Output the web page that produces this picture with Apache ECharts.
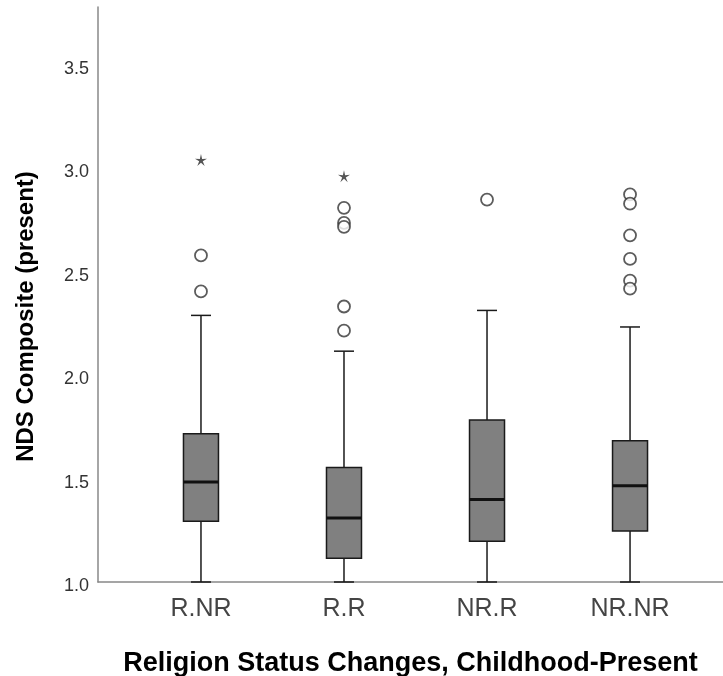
<!DOCTYPE html>
<html>
<head>
<meta charset="utf-8">
<script src="https://cdn.jsdelivr.net/npm/echarts@6/dist/echarts.min.js"></script>
<style>
  html, body { margin: 0; padding: 0; background: #fff; }
  #chart { width: 723px; height: 676px; }
</style>
</head>
<body>
<div id="chart"></div>
<script>
// groups on the x axis
let categories = ['R.NR', 'R.R', 'NR.R', 'NR.NR'];

// box statistics per group (whisker low, Q1, median, Q3, whisker high)
let whiskerLow  = [1.00, 1.00, 1.00, 1.00];
let quartile1   = [1.294, 1.115, 1.197, 1.246];
let medians     = [1.483, 1.309, 1.399, 1.465];
let quartile3   = [1.717, 1.554, 1.783, 1.683];
let whiskerHigh = [2.289, 2.116, 2.313, 2.233];

// outliers (circles) and extremes (stars): [group index, value]
let outliers = [
  [0, 2.579], [0, 2.405],
  [1, 2.809], [1, 2.736], [1, 2.717], [1, 2.332], [1, 2.215],
  [2, 2.849],
  [3, 2.874], [3, 2.829], [3, 2.676], [3, 2.562], [3, 2.457], [3, 2.418]
];
let extremes = [
  [0, 3.040],
  [1, 2.962]
];

let yTicks = [1.0, 1.5, 2.0, 2.5, 3.0, 3.5];

let boxData = categories.map((c, i) => [i, whiskerLow[i], quartile1[i], medians[i], quartile3[i], whiskerHigh[i]]);

let starPath = 'path://M50 0 L58.82 37.86 L97.55 34.55 L64.27 54.64 L79.39 90.45 L50 65 L20.61 90.45 L35.73 54.64 L2.45 34.55 L41.18 37.86 Z';

let chart = echarts.init(document.getElementById('chart'), null, { renderer: 'canvas' });

function renderBox(params, api) {
  let i = api.value(0);
  let lo = api.coord([i, api.value(1)]);
  let q1 = api.coord([i, api.value(2)]);
  let md = api.coord([i, api.value(3)]);
  let q3 = api.coord([i, api.value(4)]);
  let hi = api.coord([i, api.value(5)]);
  let x = lo[0];
  let halfBox = 17.5, halfCap = 10;
  let lineStyle = { stroke: '#1a1a1a', lineWidth: 1.5 };
  return {
    type: 'group',
    children: [
      { type: 'line', shape: { x1: x, y1: q3[1], x2: x, y2: hi[1] }, style: lineStyle },
      { type: 'line', shape: { x1: x, y1: q1[1], x2: x, y2: lo[1] }, style: lineStyle },
      { type: 'line', shape: { x1: x - halfCap, y1: hi[1], x2: x + halfCap, y2: hi[1] }, style: lineStyle },
      { type: 'line', shape: { x1: x - halfCap, y1: lo[1], x2: x + halfCap, y2: lo[1] }, style: lineStyle },
      { type: 'rect', shape: { x: x - halfBox, y: q3[1], width: halfBox * 2, height: q1[1] - q3[1] },
        style: { fill: '#808080', stroke: '#1a1a1a', lineWidth: 1.5 } },
      { type: 'line', shape: { x1: x - halfBox, y1: md[1], x2: x + halfBox, y2: md[1] },
        style: { stroke: '#111', lineWidth: 3 } }
    ]
  };
}

let option = {
  animation: false,
  backgroundColor: '#fff',
  textStyle: { fontFamily: '"Liberation Sans", Arial, sans-serif' },
  grid: { left: 98, right: 0, top: 7, bottom: 94, outerBoundsMode: 'none' },
  xAxis: {
    type: 'value',
    min: -0.72,
    max: 3.65,
    splitLine: { show: false },
    axisTick: { show: false },
    axisLine: { onZero: false, lineStyle: { color: '#888', width: 1.5 } },
    axisLabel: {
      customValues: [0, 1, 2, 3],
      formatter: v => categories[Math.round(v)] || '',
      color: '#444',
      fontSize: 25,
      margin: 15
    },
    name: 'Religion Status Changes, Childhood-Present',
    nameLocation: 'middle',
    nameGap: 68,
    nameTextStyle: { color: '#000', fontSize: 27, fontWeight: 'bold' }
  },
  yAxis: {
    type: 'value',
    min: 1.0,
    max: 3.78,
    interval: 0.5,
    splitLine: { show: false },
    axisTick: { show: false },
    axisLine: { show: true, onZero: false, lineStyle: { color: '#888', width: 1.5 } },
    axisLabel: {
      customValues: yTicks,
      formatter: v => v.toFixed(1),
      color: '#333',
      fontSize: 18,
      margin: 9,
      verticalAlign: 'top',
      lineHeight: 8
    },
    name: 'NDS Composite (present)',
    nameLocation: 'middle',
    nameRotate: 90,
    nameGap: 60,
    nameTextStyle: { color: '#000', fontSize: 24, fontWeight: 'bold', padding: [0, 44, 0, 0] }
  },
  series: [
    {
      type: 'custom',
      renderItem: renderBox,
      encode: { x: 0, y: [1, 2, 3, 4, 5] },
      data: boxData,
      z: 2
    },
    {
      type: 'scatter',
      data: outliers,
      symbol: 'circle',
      symbolSize: 12,
      itemStyle: { color: '#fff', borderColor: '#333', borderWidth: 1.8 },
      z: 3
    },
    {
      type: 'scatter',
      data: extremes,
      symbol: starPath,
      symbolSize: 12,
      itemStyle: { color: '#2a2a2a' },
      z: 3
    }
  ]
};

chart.setOption(option);
</script>
</body>
</html>
